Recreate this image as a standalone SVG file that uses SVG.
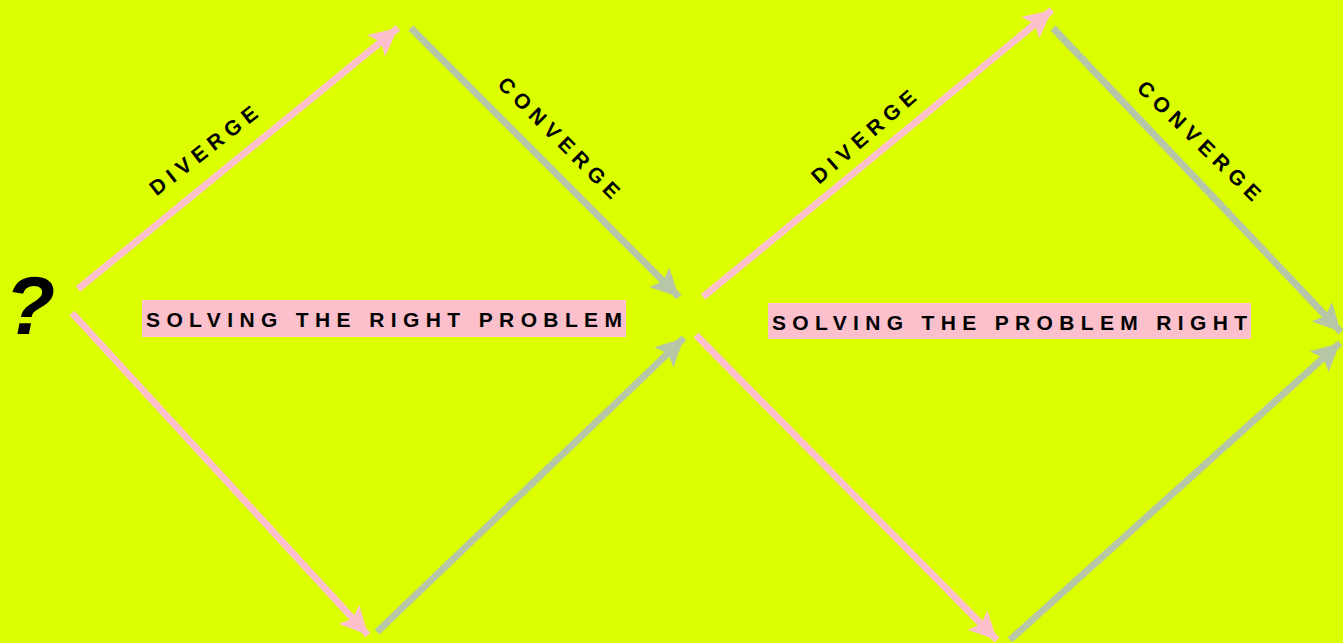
<svg xmlns="http://www.w3.org/2000/svg" width="1343" height="643" viewBox="0 0 1343 643">
<defs>
<marker id="hp" viewBox="0 0 10 10" refX="10" refY="5" markerWidth="4" markerHeight="4" markerUnits="strokeWidth" orient="auto"><path d="M0,0 L10,5 L0,10 L2,5 Z" fill="#fbc0cb"/></marker>
<marker id="hg" viewBox="0 0 10 10" refX="10" refY="5" markerWidth="4" markerHeight="4" markerUnits="strokeWidth" orient="auto"><path d="M0,0 L10,5 L0,10 L2,5 Z" fill="#b6c6a6"/></marker>
<style>
.p{stroke:#fbc0cb;stroke-width:7;fill:none;marker-end:url(#hp)}
.g{stroke:#b6c6a6;stroke-width:7;fill:none;marker-end:url(#hg)}
.lbl{font-family:"Liberation Sans",Arial,sans-serif;font-weight:bold;font-size:21px;fill:#000;letter-spacing:6px}
.big{font-family:"Liberation Sans",Arial,sans-serif;font-weight:bold;font-size:21px;fill:#000}
.box{fill:#fbc0cb}
</style>
</defs>
<rect width="1343" height="643" fill="#dcff00"/>
<g id="connectors">
<line class="p" x1="78" y1="289" x2="398" y2="28"/>
<line class="g" x1="411" y1="28" x2="679" y2="297"/>
<line class="p" x1="72" y1="313" x2="368" y2="635"/>
<line class="g" x1="377" y1="632" x2="684" y2="338"/>
<line class="p" x1="703" y1="297" x2="1052" y2="10"/>
<line class="g" x1="1053" y1="28" x2="1341" y2="332"/>
<line class="p" x1="696" y1="335" x2="997" y2="640"/>
<line class="g" x1="1010" y1="640" x2="1340" y2="343"/>
</g>
<g id="question"><text x="30" y="334" text-anchor="middle" font-family="Liberation Sans,Arial,sans-serif" font-weight="bold" font-style="italic" font-size="82" fill="#000">?</text></g>
<g id="label-diverge-1"><text class="lbl" transform="translate(206,149) rotate(-38)" text-anchor="middle" y="7">DIVERGE</text></g>
<g id="label-converge-1"><text class="lbl" transform="translate(561,140) rotate(45)" text-anchor="middle" y="7">CONVERGE</text></g>
<g id="label-diverge-2"><text class="lbl" transform="translate(866,135) rotate(-41)" text-anchor="middle" y="7">DIVERGE</text></g>
<g id="label-converge-2"><text class="lbl" transform="translate(1201,143) rotate(44)" text-anchor="middle" y="7">CONVERGE</text></g>
<g id="node-right-problem">
<rect class="box" x="142" y="300" width="484" height="37"/>
<text class="big" x="146" y="327" textLength="476" lengthAdjust="spacing">SOLVING THE RIGHT PROBLEM</text>
</g>
<g id="node-problem-right">
<rect class="box" x="768" y="303" width="483" height="36"/>
<text class="big" x="772" y="330" textLength="475" lengthAdjust="spacing">SOLVING THE PROBLEM RIGHT</text>
</g>
</svg>
